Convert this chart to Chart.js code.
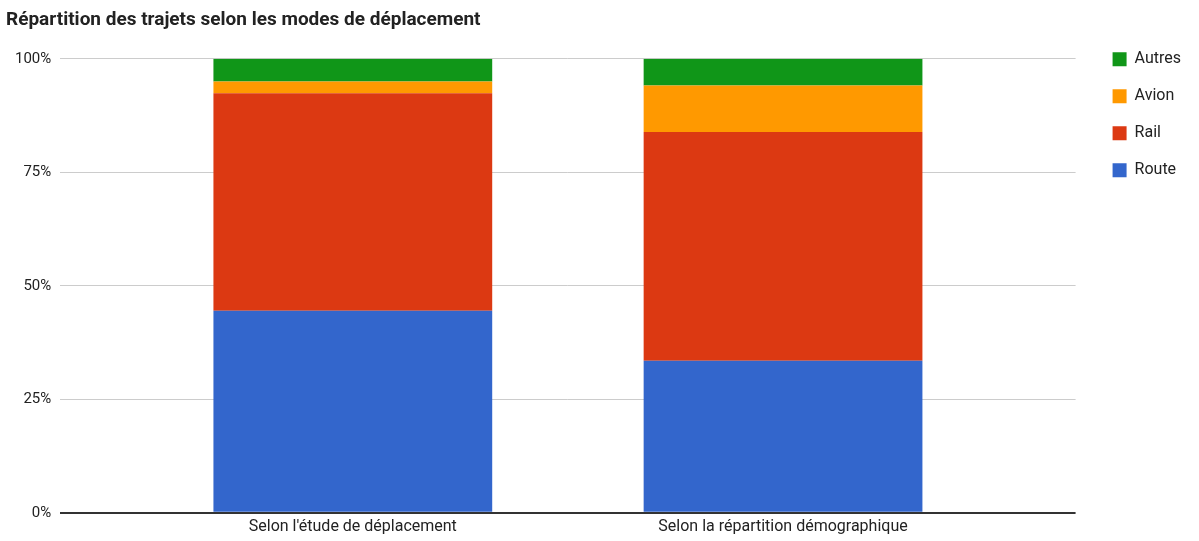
<!DOCTYPE html>
<html>
<head>
<meta charset="utf-8">
<script src="https://cdn.jsdelivr.net/npm/chart.js@4"></script>
<style>
  body { margin: 0; background: #fff; }
  #wrap { width: 1199px; height: 541px; }
</style>
</head>
<body>
<div id="wrap"><canvas id="modesChart" width="1199" height="541"></canvas></div>
<script>
// data (percent of trips)
const categories = ["Selon l'étude de déplacement", "Selon la répartition démographique"];
const route = [44.5, 33.5];
const rail = [47.9, 50.4];
const avion = [2.6, 10.2];
const autres = [5.0, 5.9];
const yTicks = [0, 25, 50, 75, 100];

const toPoints = arr => arr.map((v, i) => ({ x: i, y: v }));

const ctx = document.getElementById("modesChart").getContext("2d");
const chart = new Chart(ctx, {
  type: "bar",
  data: {
    datasets: [
      { label: "Route", data: toPoints(route), backgroundColor: "#3366cc" },
      { label: "Rail", data: toPoints(rail), backgroundColor: "#dc3912" },
      { label: "Avion", data: toPoints(avion), backgroundColor: "#ff9900" },
      { label: "Autres", data: toPoints(autres), backgroundColor: "#109618" }
    ]
  },
  options: {
    responsive: false,
    animation: false,
    datasets: { bar: { categoryPercentage: 1, barPercentage: 0.648, borderWidth: 0 } },
    layout: { padding: { left: 6, right: 8, top: 4, bottom: -1 } },
    font: { family: "Roboto", size: 15 },
    plugins: {
      title: {
        display: true,
        text: "Répartition des trajets selon les modes de déplacement",
        align: "start",
        color: "#222",
        font: { family: "Roboto", size: 19, weight: "bold" },
        padding: { top: 5, bottom: 27 }
      },
      legend: {
        position: "right",
        align: "start",
        reverse: true,
        title: { display: true, text: "", font: { size: 1 }, padding: { top: 25, bottom: 0 } },
        labels: {
          boxWidth: 14,
          boxHeight: 14,
          padding: 21,
          color: "#222",
          font: { family: "Roboto", size: 16 }
        }
      },
      tooltip: { enabled: false }
    },
    scales: {
      x: {
        type: "linear",
        stacked: true,
        offset: false,
        min: -0.68,
        max: 1.68,
        grid: { display: false, drawTicks: false },
        border: { display: false },
        ticks: {
          stepSize: 1,
          includeBounds: false,
          maxRotation: 0,
          padding: 5,
          color: "#222",
          font: { family: "Roboto", size: 16 },
          callback: v => categories[v] ?? ""
        }
      },
      y: {
        stacked: true,
        min: 0,
        max: 100,
        afterBuildTicks: axis => { axis.ticks = yTicks.map(v => ({ value: v })); },
        grid: {
          drawTicks: false,
          color: c => c.tick.value === 0 ? "#333" : "#ccc",
          lineWidth: c => c.tick.value === 0 ? 2 : 1
        },
        border: { display: false },
        ticks: {
          padding: 9,
          color: "#222",
          font: { family: "Roboto", size: 15 },
          callback: v => v + "%"
        }
      },
      // empty axis that only keeps a gap between the plot and the legend
      gap: {
        position: "right",
        min: 0,
        max: 1,
        grid: { display: false, drawTicks: false },
        border: { display: false },
        ticks: { display: false },
        afterFit: axis => { axis.width = 16; }
      }
    }
  }
});
</script>
</body>
</html>
